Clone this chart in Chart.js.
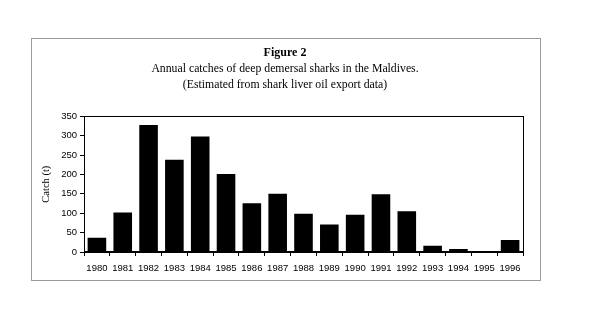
<!DOCTYPE html>
<html>
<head>
<meta charset="utf-8">
<script src="https://cdn.jsdelivr.net/npm/chart.js@4"></script>
<style>
  html, body { margin: 0; padding: 0; background: #fff; }
  body { width: 600px; height: 336px; position: relative; overflow: hidden; }
  #frame {
    position: absolute; left: 31px; top: 38px;
    width: 510px; height: 243px;
    border: 1px solid #9a9a9a; box-sizing: border-box;
  }
  #catchChart { position: absolute; left: 0; top: 0; }
</style>
</head>
<body>
<div id="frame"></div>
<canvas id="catchChart" width="600" height="336"></canvas>
<script>
// Catch of deep demersal sharks per year (tonnes)
const years = ['1980', '1981', '1982', '1983', '1984', '1985', '1986', '1987', '1988',
               '1989', '1990', '1991', '1992', '1993', '1994', '1995', '1996'];
const catches = [37, 102, 328, 238, 298, 201, 126, 150, 99,
                 71, 96, 149, 105, 16, 8, 1, 31];
const yTicks = [0, 50, 100, 150, 200, 250, 300, 350];

const serif = '"Liberation Serif", "Times New Roman", serif';
const sans = '"Liberation Sans", Arial, sans-serif';

// box around the plot area, bottom edge a little heavier
const plotFrame = {
    id: 'plotFrame',
    afterDatasetsDraw(chart) {
        const { ctx, chartArea: a } = chart;
        ctx.save();
        ctx.strokeStyle = '#000';
        ctx.lineWidth = 1;
        ctx.strokeRect(Math.round(a.left) + 0.5, Math.round(a.top) + 0.5,
                       Math.round(a.right - a.left), Math.round(a.bottom - a.top));
        ctx.lineWidth = 2;
        ctx.beginPath();
        ctx.moveTo(a.left, Math.round(a.bottom));
        ctx.lineTo(a.right + 1, Math.round(a.bottom));
        ctx.stroke();
        ctx.restore();
    }
};

new Chart(document.getElementById('catchChart'), {
    type: 'bar',
    data: {
        labels: years,
        datasets: [{
            label: 'Catch (t)',
            data: catches,
            backgroundColor: '#000',
            borderWidth: 0,
            barPercentage: 0.72,
            categoryPercentage: 1
        }]
    },
    options: {
        responsive: false,
        animation: false,
        layout: { padding: { left: 47, right: 77, top: 0, bottom: 54 } },
        plugins: {
            legend: { display: false },
            tooltip: { enabled: false },
            title: {
                display: true,
                text: 'Figure 2',
                color: '#000',
                font: { family: serif, size: 12, weight: 'bold', lineHeight: 1.2 },
                padding: { top: 46, bottom: 0 }
            },
            subtitle: {
                display: true,
                text: ['Annual catches of deep demersal sharks in the Maldives.',
                       '(Estimated from shark liver oil export data)'],
                color: '#000',
                font: { family: serif, size: 11.75, lineHeight: 1.36 },
                padding: { top: 1, bottom: 23 }
            }
        },
        scales: {
            x: {
                grid: {
                    display: true,
                    drawOnChartArea: false,
                    drawTicks: true,
                    tickLength: 4,
                    color: '#000'
                },
                border: { display: false },
                ticks: {
                    color: '#000',
                    font: { family: sans, size: 9.5 },
                    padding: 7,
                    maxRotation: 0,
                    autoSkip: false
                },
                afterFit(scale) { scale.height = 30; }
            },
            y: {
                min: 0,
                max: 350,
                afterBuildTicks(scale) { scale.ticks = yTicks.map(v => ({ value: v })); },
                grid: {
                    display: true,
                    drawOnChartArea: false,
                    drawTicks: true,
                    tickLength: 4,
                    color: '#000'
                },
                border: { display: false },
                ticks: {
                    color: '#000',
                    font: { family: sans, size: 9.5 },
                    padding: 3
                },
                title: {
                    display: true,
                    text: 'Catch (t)',
                    color: '#000',
                    font: { family: serif, size: 10.5 },
                    padding: { top: -7, bottom: 0 }
                },
                afterFit(scale) { scale.width = 37; }
            }
        }
    },
    plugins: [plotFrame]
});
</script>
</body>
</html>
